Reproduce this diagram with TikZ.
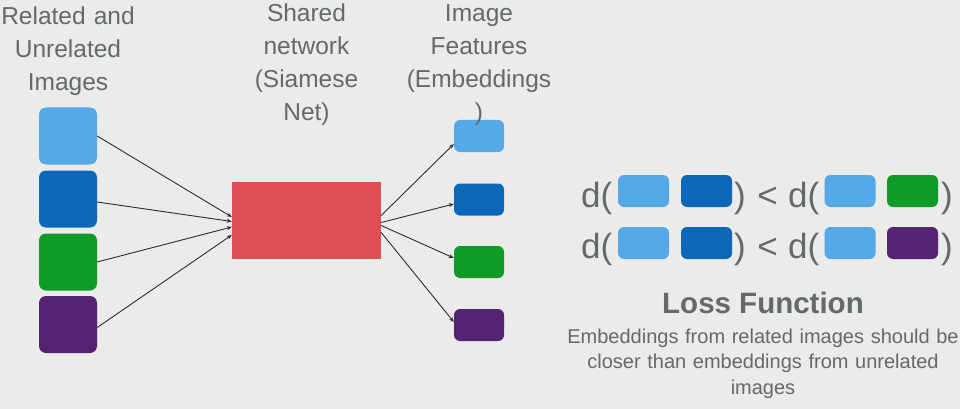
\documentclass[tikz,border=0pt]{standalone}
\usepackage{fontspec}
\setmainfont{Liberation Sans}
\usetikzlibrary{arrows.meta,calc}
\definecolor{bg}{RGB}{235,235,233}
\definecolor{txt}{RGB}{100,105,105}
\definecolor{lblue}{RGB}{86,169,232}
\definecolor{dblue}{RGB}{12,103,184}
\definecolor{grn}{RGB}{16,155,40}
\definecolor{purp}{RGB}{86,35,115}
\definecolor{netred}{RGB}{224,78,85}
\definecolor{arrowc}{RGB}{45,45,45}
\begin{document}
\begin{tikzpicture}[x=1pt,y=-1pt,
  imgbox/.style={rounded corners=7pt, minimum width=58pt, minimum height=57pt, inner sep=0pt},
  embbox/.style={rounded corners=6pt, minimum width=50pt, minimum height=32pt, inner sep=0pt},
  eqbox/.style={rounded corners=6pt, minimum width=51pt, minimum height=32pt, inner sep=0pt},
  head/.style={text=txt, font=\fontsize{24.5}{33}\selectfont, text width=170pt, align=center, anchor=base, inner sep=0pt},
  eqtext/.style={text=txt, font=\fontsize{35}{40}\selectfont, inner sep=0pt},
  conn/.style={draw=arrowc, line width=0.9pt, -{Stealth[length=5pt,width=4pt]}}]
\fill[bg] (0,0) rectangle (960,409);
\useasboundingbox (0,0) rectangle (960,409);

% input images
\node[imgbox, fill=lblue] (i1) at (68,136) {};
\node[imgbox, fill=dblue] (i2) at (68,199) {};
\node[imgbox, fill=grn]   (i3) at (68,262) {};
\node[imgbox, fill=purp]  (i4) at (68,324.5) {};

% shared network
\node[fill=netred, minimum width=149pt, minimum height=77pt, inner sep=0pt] (net) at (306.5,220.5) {};

% embeddings
\node[embbox, fill=lblue] (e1) at (479,136) {};
\node[embbox, fill=dblue] (e2) at (479,199.5) {};
\node[embbox, fill=grn]   (e3) at (479,262) {};
\node[embbox, fill=purp]  (e4) at (479,325) {};

% connectors
\draw[conn] (i1.east) -- ($(net.west)+(0,-3.5)$);
\draw[conn] ($(i2.east)+(0,3)$) -- ($(net.west)+(0,1)$);
\draw[conn] (i3.east) -- ($(net.west)+(0,6.5)$);
\draw[conn] ($(i4.east)+(0,3)$) -- ($(net.west)+(0,14.5)$);
\draw[conn] ($(net.east)+(0,-5)$) -- ($(e1.west)+(0,8)$);
\draw[conn] ($(net.east)+(0,2)$) -- ($(e2.west)+(0,4.5)$);
\draw[conn] ($(net.east)+(0,5)$) -- ($(e3.west)+(0,-4)$);
\draw[conn] ($(net.east)+(0,12)$) -- ($(e4.west)+(0,-3)$);

% column headings
\node[head] (h1) at (68,25) {Related and\\Unrelated\\Images};
\node[head] (h2) at (306.5,22) {Shared\\network\\(Siamese\\Net)};
\node[head] (h3) at (479,22) {Image\\Features\\(Embeddings\\)};

% loss inequalities
\node[eqtext, anchor=base west] (a1) at (581,207) {d(};
\node[eqbox, fill=lblue] (a2) at (643.5,191) {};
\node[eqbox, fill=dblue] (a3) at (706.5,191) {};
\node[eqtext, anchor=base west] (a4) at (734,207) {)};
\node[eqtext, anchor=base] (a5) at (767.5,207) {<};
\node[eqtext, anchor=base west] (a6) at (788,207) {d(};
\node[eqbox, fill=lblue] (a7) at (850,191) {};
\node[eqbox, fill=grn]   (a8) at (912.5,191) {};
\node[eqtext, anchor=base west] (a9) at (941,207) {)};

\node[eqtext, anchor=base west] (b1) at (581,258) {d(};
\node[eqbox, fill=lblue] (b2) at (643.5,243) {};
\node[eqbox, fill=dblue] (b3) at (706.5,243) {};
\node[eqtext, anchor=base west] (b4) at (734,258) {)};
\node[eqtext, anchor=base] (b5) at (767.5,258) {<};
\node[eqtext, anchor=base west] (b6) at (788,258) {d(};
\node[eqbox, fill=lblue] (b7) at (850,243) {};
\node[eqbox, fill=purp]  (b8) at (912.5,243) {};
\node[eqtext, anchor=base west] (b9) at (941,258) {)};

% loss description
\node[text=txt, font=\fontsize{29.5}{33}\selectfont\bfseries, anchor=base, inner sep=0pt] (lf) at (763,313) {Loss Function};
\node[text=txt, font=\fontsize{20}{25.5}\selectfont, text width=430pt, align=center, anchor=base, inner sep=0pt] (cap) at (763,343)
  {Embeddings from related images should be\\closer than embeddings from unrelated\\images};
\end{tikzpicture}
\end{document}
